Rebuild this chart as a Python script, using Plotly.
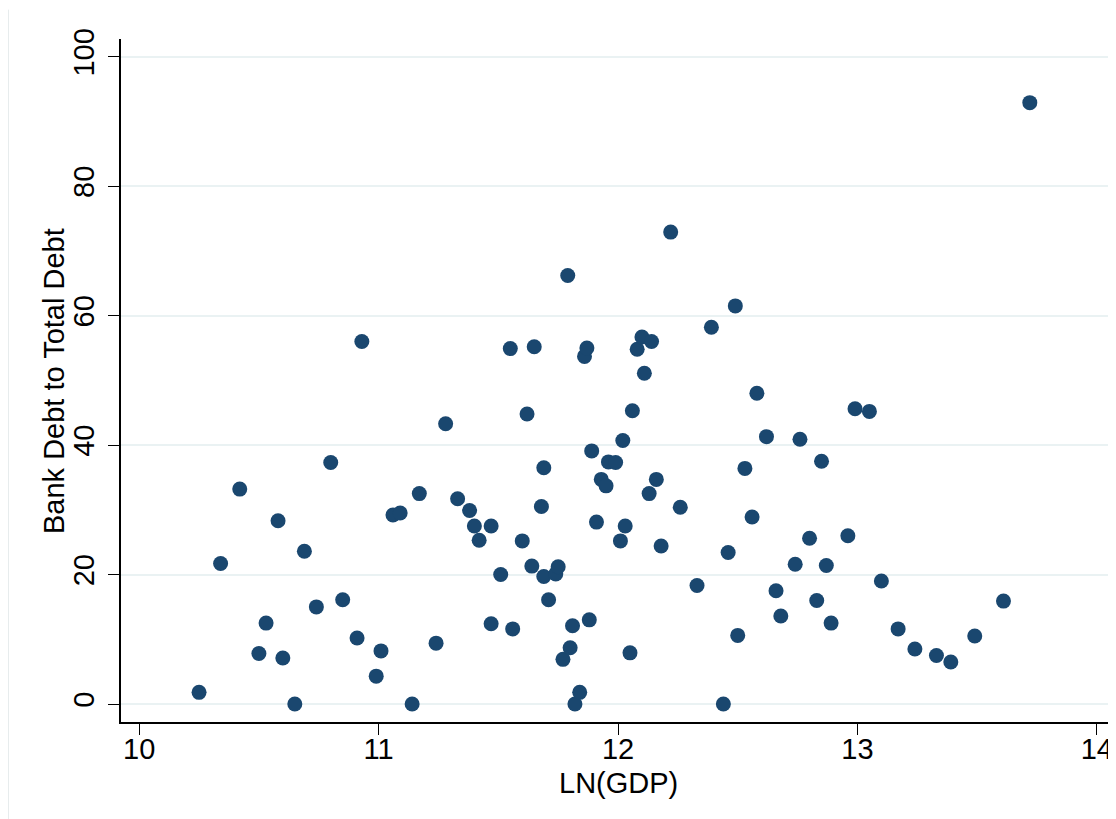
import plotly.graph_objects as go

ln_gdp = [
    10.25, 10.34, 10.42, 10.50, 10.53, 10.58, 10.60, 10.65, 10.69, 10.74,
    10.80, 10.85, 10.91, 10.93, 10.99, 11.01, 11.06, 11.09, 11.14, 11.17,
    11.24, 11.28, 11.33, 11.38, 11.40, 11.42, 11.47, 11.47, 11.51, 11.55,
    11.56, 11.60, 11.62, 11.64, 11.65, 11.68, 11.69, 11.69, 11.71, 11.74,
    11.75, 11.77, 11.79, 11.80, 11.81, 11.82, 11.84, 11.86, 11.87, 11.88,
    11.89, 11.91, 11.93, 11.95, 11.96, 11.99, 12.01, 12.02, 12.03, 12.05,
    12.06, 12.08, 12.10, 12.11, 12.13, 12.14, 12.16, 12.18, 12.22, 12.26,
    12.33, 12.39, 12.44, 12.46, 12.49, 12.50, 12.53, 12.56, 12.58, 12.62,
    12.66, 12.68, 12.74, 12.76, 12.80, 12.83, 12.85, 12.87, 12.89, 12.96,
    12.99, 13.05, 13.10, 13.17, 13.24, 13.33, 13.39, 13.49, 13.61, 13.72,
]
bank_debt_share = [
    1.8, 21.7, 33.2, 7.8, 12.5, 28.3, 7.1, 0.0, 23.6, 15.0,
    37.3, 16.1, 10.2, 56.0, 4.3, 8.2, 29.2, 29.5, 0.0, 32.5,
    9.4, 43.3, 31.7, 29.9, 27.5, 25.3, 27.5, 12.4, 20.0, 54.9,
    11.6, 25.2, 44.8, 21.3, 55.2, 30.5, 36.5, 19.7, 16.1, 20.1,
    21.2, 6.9, 66.2, 8.7, 12.1, 0.0, 1.8, 53.7, 55.0, 13.0,
    39.1, 28.1, 34.7, 33.7, 37.4, 37.3, 25.2, 40.7, 27.5, 7.9,
    45.3, 54.8, 56.7, 51.1, 32.5, 56.0, 34.7, 24.4, 72.9, 30.4,
    18.3, 58.2, 0.0, 23.4, 61.5, 10.6, 36.4, 28.9, 48.0, 41.3,
    17.5, 13.6, 21.6, 40.9, 25.6, 16.0, 37.5, 21.4, 12.5, 26.0,
    45.6, 45.2, 19.0, 11.6, 8.5, 7.5, 6.5, 10.5, 15.9, 92.9,
]
x_ticks = [10, 11, 12, 13, 14]
y_ticks = [0, 20, 40, 60, 80, 100]
x_title = "LN(GDP)"
y_title = "Bank Debt to Total Debt"

FONT = "Liberation Sans, Arial, Helvetica, sans-serif"
FS = 29

fig = go.Figure(
    go.Scatter(
        x=ln_gdp,
        y=bank_debt_share,
        mode="markers",
        marker=dict(size=15, color="#1a476f", line=dict(width=0)),
        showlegend=False,
        hoverinfo="x+y",
    )
)

# the page body adds an 8px margin, so the figure is 8px smaller each way
fig.update_layout(
    width=1108,
    height=811,
    margin=dict(l=113, r=0, t=31, b=97),
    paper_bgcolor="white",
    plot_bgcolor="white",
    font=dict(family=FONT, size=FS, color="black"),
    showlegend=False,
)

fig.update_xaxes(
    range=[9.924, 14.08],
    tickvals=x_ticks,
    ticktext=[str(v) for v in x_ticks],
    showgrid=False,
    zeroline=False,
    showline=True,
    linecolor="black",
    linewidth=1.6,
    ticks="outside",
    ticklen=11,
    tickwidth=1.4,
    tickcolor="black",
    tickfont=dict(family=FONT, size=FS, color="black"),
    ticklabelstandoff=-11,
    automargin=False,
)

fig.update_yaxes(
    range=[-2.78, 102.73],
    tickvals=y_ticks,
    ticktext=[str(v) for v in y_ticks],
    showgrid=True,
    gridcolor="#eaf2f3",
    gridwidth=2,
    zeroline=False,
    showline=True,
    linecolor="black",
    linewidth=1.6,
    ticks="outside",
    ticklen=11,
    tickwidth=1.4,
    tickcolor="black",
    tickangle=-90,
    tickfont=dict(family=FONT, size=FS, color="black"),
    ticklabelstandoff=3,
    automargin=False,
)

# axis titles
fig.add_annotation(
    text=x_title, xref="paper", yref="paper",
    x=0.4995, y=-0.0893, xanchor="center", yanchor="middle",
    showarrow=False, font=dict(family=FONT, size=FS, color="black"),
)
fig.add_annotation(
    text=y_title, xref="paper", yref="paper",
    x=-0.0673, y=0.4993, xanchor="center", yanchor="middle", textangle=-90,
    showarrow=False, font=dict(family=FONT, size=FS, color="black"),
)

# faint outer graph-region border on the left
fig.add_shape(
    type="line", xref="paper", yref="paper",
    x0=-0.1131, x1=-0.1131, y0=1.043, y1=-0.15,
    line=dict(color="#e6eced", width=1),
)

fig.write_html("out.html")
